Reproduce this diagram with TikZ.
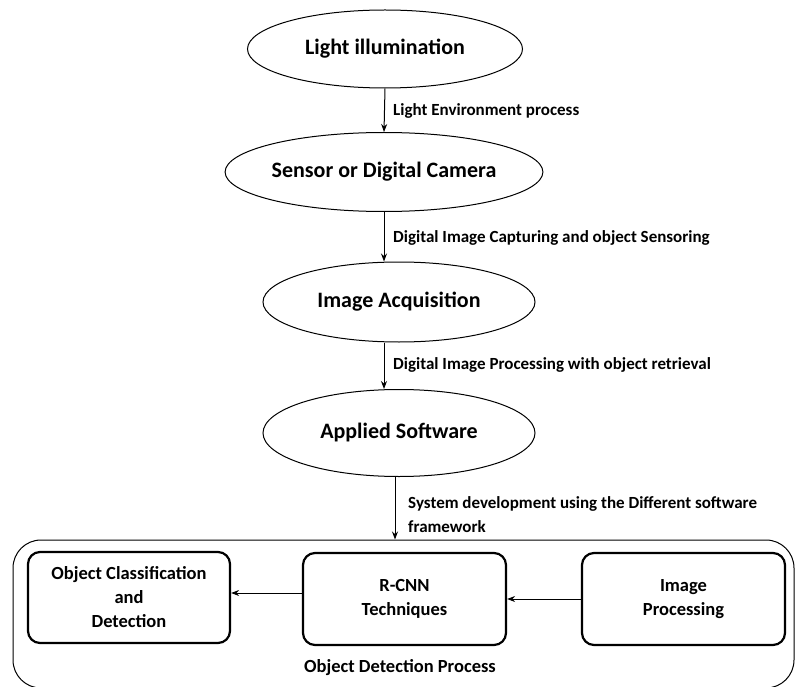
\documentclass[tikz,border=0pt]{standalone}
\usepackage{fontspec}
\setmainfont{Carlito}
\usepackage{tikz}
\usetikzlibrary{shapes.geometric,arrows.meta}

\begin{document}
\begin{tikzpicture}[x=1pt, y=-1pt,
  stage/.style = {draw, ellipse, line width=1pt, inner sep=0pt,
    font=\bfseries\fontsize{22}{26}\selectfont},
  tool/.style = {draw, rounded corners=12pt, line width=2.2pt, inner sep=0pt, align=center,
    font=\bfseries\fontsize{18.5}{24}\selectfont},
  note/.style = {anchor=west, align=left, inner sep=0pt,
    font=\bfseries\fontsize{17}{24}\selectfont},
  flow/.style = {line width=1pt, -{Stealth[length=8pt,width=6pt]}}]
\useasboundingbox (0,0) rectangle (795,687);
% the chain of ellipses
\node[stage, minimum width=275, minimum height=78] (light) at (385,49) {Light illumination};
\node[stage, minimum width=278, minimum height=79] (camera) at (384,172) {Sensor or Digital Camera};
\node[stage, minimum width=272, minimum height=80] (acq) at (399,302) {Image Acquisition};
\node[stage, minimum width=272, minimum height=87] (soft) at (399,433) {Applied Software};
% outer frame
\node[draw, line width=1pt, rounded corners=28pt, inner sep=0pt,
  minimum width=781, minimum height=148] (frame) at (403.5,614) {};
\node[font=\bfseries\fontsize{18.5}{20}\selectfont] (framelbl) at (400,668) {Object Detection Process};
% boxes inside
\node[tool, minimum width=202, minimum height=91] (classify) at (129,597.5) {Object Classification\\and\\Detection};
\node[tool, minimum width=203, minimum height=92] (rcnn) at (404.5,599) {R-CNN\\Techniques};
\node[tool, minimum width=203, minimum height=92] (improc) at (683.5,599) {Image\\Processing};
% arrows
\draw[flow] (light.south) -- (camera.north);
\draw[flow] (camera.south) -- (camera.south |- acq.north);
\draw[flow] (camera.south |- acq.south) -- (camera.south |- soft.north);
\draw[flow] ([xshift=-4pt]soft.south) -- ([xshift=-4pt]soft.south |- frame.north);
\draw[flow] (improc.west) -- (rcnn.east);
\draw[flow] ([yshift=6pt]rcnn.west) -- ([yshift=6pt]rcnn.west -| classify.east);
% arrow labels
\node[note] (n1) at (393,111) {Light Environment process};
\node[note] (n2) at (393,238) {Digital Image Capturing and object Sensoring};
\node[note] (n3) at (393,365) {Digital Image Processing with object retrieval};
\node[note] (n4) at (408,515) {System development using the Different software\\framework};
\end{tikzpicture}
\end{document}
